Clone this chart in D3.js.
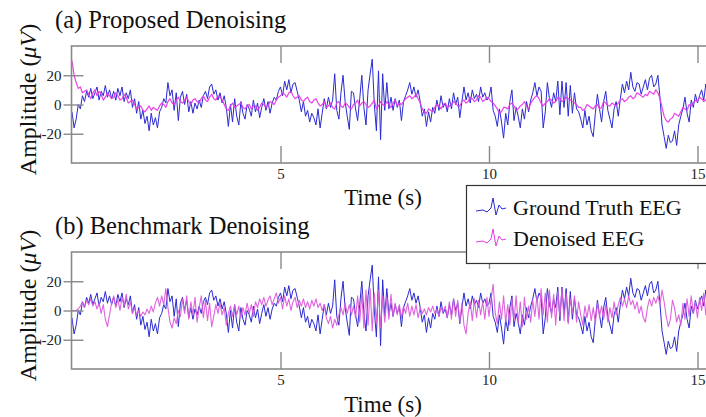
<!DOCTYPE html>
<html>
<head>
<meta charset="utf-8">
<script src="https://cdn.jsdelivr.net/npm/d3@7"></script>
<style>
  html, body { margin: 0; padding: 0; background: #fff; }
  svg { display: block; font-family: "Liberation Serif", "Times New Roman", serif; }
</style>
</head>
<body>
<svg id="chart" width="706" height="417"></svg>
<script>
// ---------------- DATA ----------------
const sampleStep = 0.05;      // s, every series sampled every 0.05 s from 0 to 15.3 s
const xTicks = [5, 10, 15];
const yTicks = [-20, 0, 20];
const panelTitles = ["(a) Proposed Denoising", "(b) Benchmark Denoising"];
const seriesNames = ["Ground Truth EEG", "Denoised EEG"];

// Ground truth EEG (µV)
const groundTruth = [
  -5,-16,-10,0,-3,6,2,9,5,11,4,8,12,3,9,6,13,5,10,4,
  9,3,11,6,12,2,8,4,10,-2,4,-6,2,-10,-4,-13,-8,-18,-6,-14,
  -9,-16,-5,-2,4,1,15,6,10,-4,8,-11,5,9,0,7,-5,2,-6,1,
  -3,3,-2,6,9,4,12,14,7,10,3,8,1,6,-2,-15,0,-12,4,-8,
  -14,2,-6,-10,0,-3,-8,3,-5,1,-9,-2,4,-4,2,-6,1,5,3,9,
  12,6,16,10,17,8,14,15,9,3,-5,2,-8,-4,-12,-6,-9,-14,-3,-16,
  -6,4,-3,5,-2,3,21,-4,-10,8,20,2,-8,-17,9,8,-3,-11,4,20,
  -2,-14,10,21,31,0,-18,23,-24,21,-4,15,-3,5,-4,4,-2,3,-11,2,
  6,10,15,7,12,5,10,2,-8,-3,-15,-5,-12,-2,-6,3,-4,6,-2,1,
  -5,4,-3,8,0,5,-9,2,12,3,8,1,10,4,7,2,12,5,8,3,
  5,12,-4,-8,-15,-3,-12,-23,-6,-14,2,10,-11,-2,-8,-16,-3,-10,2,-5,
  3,8,15,6,12,9,-16,-5,15,4,-2,8,2,16,-7,16,-2,15,-8,13,
  -6,8,-3,-5,-10,-16,-4,-14,-8,-18,-22,-6,7,-3,-12,2,9,-4,-10,-16,
  -3,2,-8,4,14,8,16,10,22,12,9,15,14,7,12,17,10,18,20,12,
  14,20,5,-14,-22,-30,-21,-26,-25,-18,-28,-14,-8,-3,5,-6,-12,3,-2,7,
  1,6,10,3,14,9,12
];

// Proposed denoised EEG (µV)
const proposedDenoised = [
  30,20,15,11,12,8,9,10,7,4,8,10,6,9,7,3,5,8,6,4,
  5,8,6,3,4,7,5,1,2,3,0,-3,-2,-1,-4,-5,-3,-1,-4,-2,
  -3,-4,-1,1,0,-2,2,4,1,0,3,5,2,1,3,5,2,0,3,4,
  2,1,4,6,3,2,5,7,4,3,6,5,3,0,-3,-4,-1,1,-2,-1,
  0,1,-2,-3,-1,0,-3,-1,-1,-4,-2,1,0,-2,-1,2,1,0,3,5,
  6,8,7,5,8,9,6,4,5,6,3,2,4,5,2,1,3,4,1,-1,
  0,2,-2,-1,1,-2,-3,1,2,-1,-2,1,0,-2,-3,0,1,3,-1,1,
  2,0,-2,-1,1,3,-3,-1,2,0,-1,2,0,-2,1,3,-1,1,0,2,
  4,5,6,4,5,7,4,1,-3,-5,-6,-3,-4,-5,-2,0,-1,-3,0,1,
  -2,-1,0,2,1,-1,-1,2,3,1,2,5,4,2,3,6,5,2,3,5,
  4,2,1,-1,-3,-6,-5,-2,-2,-3,0,1,-1,-4,-3,-1,0,2,-1,-3,
  1,3,5,6,4,1,-1,1,2,4,3,1,2,5,4,2,3,5,4,3,
  2,1,0,-2,-2,-4,-3,0,-1,-2,-3,-1,0,-3,-2,2,1,-1,-1,1,
  0,-1,1,3,4,2,3,5,6,4,5,8,7,6,5,7,6,9,8,7,
  10,8,4,-2,-8,-11,-12,-10,-9,-6,-7,-8,-5,-2,-3,-4,0,-1,1,3,
  2,5,4,2,3,6,5
];

// Benchmark denoised EEG (µV)
const benchmarkDenoised = [
  0,0,0,1,3,6,2,7,4,8,3,6,1,5,-2,4,-6,-11,-3,5,
  10,2,8,0,9,3,11,1,6,-2,2,-3,0,-4,-1,-3,1,-2,3,-1,
  5,9,3,10,4,15,2,-8,-12,-5,-9,0,-4,8,-2,10,-6,6,-3,9,
  -8,2,10,-5,7,-7,5,-11,-4,4,-2,5,-3,2,-10,-2,3,-4,4,-3,
  3,-5,2,-3,5,-2,4,-4,6,2,8,4,9,3,7,10,4,8,12,5,
  9,1,10,3,8,0,6,9,2,7,3,8,2,6,1,7,3,8,2,5,
  0,4,-5,-9,-4,-12,-6,-10,-3,2,-3,5,-2,4,-3,3,-5,10,-8,12,
  -12,14,-10,15,-14,12,-9,14,-12,10,-8,9,-6,11,-4,5,-3,4,-5,3,
  -2,5,-4,3,-3,4,-5,2,-2,1,-3,2,-1,3,-2,1,-4,2,-1,3,
  -5,6,-6,8,-4,7,-8,5,-10,-16,-2,6,-7,8,-5,7,-3,6,-6,9,
  -4,8,18,-2,-9,6,-6,10,-8,4,-10,8,-7,10,-9,6,-11,9,-6,3,
  -8,7,-4,10,-6,15,-3,12,-8,14,-5,11,-10,13,-4,15,-7,12,-9,8,
  -2,10,-8,6,-3,-10,3,-5,4,-7,2,-9,5,-4,3,-6,4,-8,2,-5,
  6,-3,4,9,3,8,2,10,4,7,1,6,-2,3,-5,-8,2,8,3,9,
  5,10,4,14,6,-4,-11,-6,7,2,-8,-3,-10,5,-6,8,-4,10,-2,6,
  -5,9,0,12,-3,8,4
];

// Legend glyph (small EEG-like squiggle), relative offsets
const legendGlyph = [[0,2],[7,1],[11,3],[15,-1],[17,-11],[20,6],[23,-4],[26,0],[30,-1]];

// ---------------- DRAWING ----------------
const colors = { truth: "#2a2ad2", proposed: "#e838e8", bench: "#dc5cdc", frame: "#8a8a8a" };
const svg = d3.select("#chart");

const x = d3.scaleLinear().domain([0, 15.3]).range([72, 710]);

const toPts = arr => arr.map((v, i) => ({ t: i * sampleStep, v }));
const truthPts = toPts(groundTruth);
const propPts = toPts(proposedDenoised);
const benchPts = toPts(benchmarkDenoised);

const panels = [
  { top: 46, bottom: 163, denoised: propPts, color: colors.proposed, width: 1.2, titleY: 28, xlabY: 205 },
  { top: 252, bottom: 369, denoised: benchPts, color: colors.bench, width: 1.1, titleY: 234, xlabY: 412 }
];

panels.forEach((p, k) => {
  const y = d3.scaleLinear().domain([-40, 40]).range([p.bottom, p.top]);
  const g = svg.append("g");
  const clipId = "clip" + k;
  svg.append("clipPath").attr("id", clipId)
    .append("rect").attr("x", 72).attr("y", p.top).attr("width", 640).attr("height", p.bottom - p.top);

  const line = d3.line().x(d => x(d.t)).y(d => y(d.v));
  const plot = g.append("g").attr("clip-path", `url(#${clipId})`);
  plot.append("path").datum(truthPts).attr("d", line)
    .attr("fill", "none").attr("stroke", colors.truth).attr("stroke-width", 1).attr("stroke-linejoin", "round");
  plot.append("path").datum(p.denoised).attr("d", line)
    .attr("fill", "none").attr("stroke", p.color).attr("stroke-width", p.width).attr("stroke-linejoin", "round")
    .attr("opacity", 0.95);

  // frame (right edge lies outside the window)
  g.append("rect").attr("x", 71.5).attr("y", p.top).attr("width", 660).attr("height", p.bottom - p.top)
    .attr("fill", "none").attr("stroke", colors.frame).attr("stroke-width", 1.6);

  const xb = g.append("g").attr("transform", `translate(0,${p.bottom})`)
    .call(d3.axisBottom(x).tickValues(xTicks).tickSize(-17).tickPadding(5).tickFormat(d => String(d)));
  const xt = g.append("g").attr("transform", `translate(0,${p.top})`)
    .call(d3.axisTop(x).tickValues(xTicks).tickSize(-17).tickFormat(""));
  const yl = g.append("g").attr("transform", "translate(71.5,0)")
    .call(d3.axisLeft(y).tickValues(yTicks).tickSize(8).tickPadding(2).tickFormat(d => String(d)));
  const yr = g.append("g").attr("transform", "translate(71.5,0)")
    .call(d3.axisRight(y).tickValues(yTicks).tickSize(12).tickFormat(""));

  [xb, xt, yl, yr].forEach(a => {
    a.select(".domain").remove();
    a.selectAll(".tick line").attr("stroke", colors.frame).attr("stroke-width", 1.4);
    a.selectAll(".tick text").attr("fill", "#222").attr("font-size", 15)
      .attr("font-family", "Liberation Serif, Times New Roman, serif");
  });

  svg.append("text").attr("x", 55).attr("y", p.titleY).attr("font-size", 24.5).attr("fill", "#111")
    .text(panelTitles[k]);
  svg.append("text").attr("x", 383).attr("y", p.xlabY).attr("text-anchor", "middle")
    .attr("font-size", 23).attr("fill", "#111").text("Time (s)");
  const yc = (p.top + p.bottom) / 2 - 5;
  const yt = svg.append("text").attr("transform", `translate(36,${yc}) rotate(-90)`)
    .attr("text-anchor", "middle").attr("font-size", 24).attr("fill", "#111");
  yt.append("tspan").text("Amplitude (");
  yt.append("tspan").attr("font-style", "italic").text("\u03BCV");
  yt.append("tspan").text(")");
});

// ---------------- LEGEND ----------------
const lg = svg.append("g");
lg.append("rect").attr("x", 466.5).attr("y", 185.5).attr("width", 260).attr("height", 78)
  .attr("fill", "#fff").attr("stroke", "#333").attr("stroke-width", 1.2);
const glyphLine = d3.line().x(d => d[0]).y(d => d[1]);
[[colors.truth, 209], [colors.proposed, 240]].forEach(([c, cy], i) => {
  lg.append("path").attr("d", glyphLine(legendGlyph.map(([dx, dy]) => [476 + dx, cy + dy])))
    .attr("fill", "none").attr("stroke", c).attr("stroke-width", 1);
  lg.append("text").attr("x", 513).attr("y", i === 0 ? 215 : 246).attr("font-size", 22)
    .attr("fill", "#111").text(seriesNames[i]);
});
</script>
</body>
</html>
